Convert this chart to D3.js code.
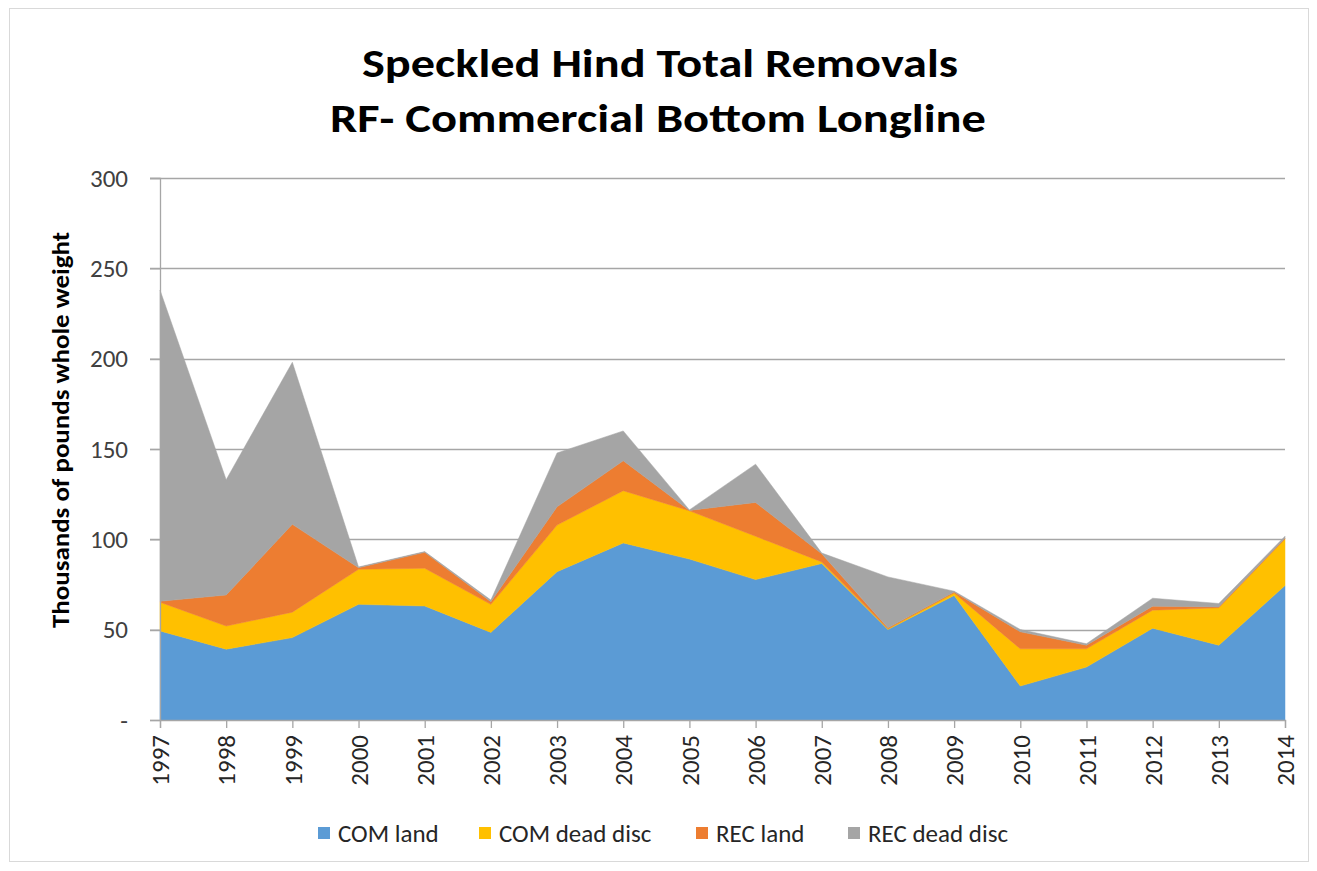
<!DOCTYPE html>
<html>
<head>
<meta charset="utf-8">
<script src="https://cdn.jsdelivr.net/npm/d3@7"></script>
<style>
  body { margin: 0; background: #fff; }
  text { font-family: Carlito, "Open Sans", "Liberation Sans", sans-serif; }
</style>
</head>
<body>
<svg id="chart" width="1317" height="871"></svg>
<script>
// values (thousands of pounds whole weight)
var years = ["1997","1998","1999","2000","2001","2002","2003","2004","2005",
	"2006","2007","2008","2009","2010","2011","2012","2013","2014"];
var comLand = [49.3, 39.2, 45.6, 64.0, 63.1, 48.5, 82.1, 98.0, 89.1, 77.7, 86.6, 50.1, 68.9, 18.8, 29.3, 50.8, 41.4, 74.4];
var comDead = [15.9, 12.8, 14.1, 19.4, 20.9, 15.5, 25.8, 28.9, 26.7, 24.0, 0.9, 0.4, 1.4, 20.6, 10.1, 10.0, 20.7, 25.8];
var recLand = [0.5, 17.2, 48.6, 0.9, 8.8, 1.5, 10.1, 16.6, 0.2, 18.7, 4.5, 0.5, 0.6, 9.4, 2.0, 2.2, 0.5, 0.4];
var recDead = [172.3, 63.8, 89.7, 0.4, 0.4, 0.9, 29.8, 16.5, 0.3, 21.2, 0.4, 28.2, 0.4, 1.3, 0.8, 4.4, 1.9, 1.1];
var seriesNames = ["COM land", "COM dead disc", "REC land", "REC dead disc"];
var seriesColors = ["#5b9bd5", "#ffc000", "#ed7d31", "#a5a5a5"];
var yTicks = [0, 50, 100, 150, 200, 250, 300];

var svg = d3.select("#chart"),
	margin = {left: 160, right: 32, top: 178, bottom: 151},
	width = 1317 - margin.left - margin.right,
	height = 871 - margin.top - margin.bottom;

var rows = years.map(function(y, i) {
	return {year: y, "COM land": comLand[i], "COM dead disc": comDead[i],
		"REC land": recLand[i], "REC dead disc": recDead[i]};
});

var x = d3.scalePoint().domain(years).range([0, width]),
	y = d3.scaleLinear().domain([0, 300]).range([height, 0]),
	color = d3.scaleOrdinal().domain(seriesNames).range(seriesColors);

var stacked = d3.stack().keys(seriesNames)(rows);

// outer border of the chart box
svg.append("rect")
	.attr("x", 9.5).attr("y", 8.5)
	.attr("width", 1299).attr("height", 853)
	.attr("fill", "none").attr("stroke", "#d9d9d9");

// title
var title = svg.append("text")
	.attr("text-anchor", "middle")
	.attr("font-weight", "bold")
	.attr("font-size", 40)
	.attr("fill", "#000");
title.append("tspan").attr("x", 660).attr("y", 77)
	.attr("textLength", 596).attr("lengthAdjust", "spacingAndGlyphs")
	.text("Speckled Hind Total Removals");
title.append("tspan").attr("x", 658).attr("y", 132)
	.attr("textLength", 656).attr("lengthAdjust", "spacingAndGlyphs")
	.text("RF- Commercial Bottom Longline");

var g = svg.append("g").attr("transform", "translate(" + margin.left + "," + margin.top + ")");

// gridlines
g.append("g")
	.selectAll("line")
	.data(yTicks.filter(function(d) { return d > 0; }))
	.enter().append("line")
	.attr("x1", -10).attr("x2", width)
	.attr("y1", function(d) { return Math.round(y(d)) + 0.5; })
	.attr("y2", function(d) { return Math.round(y(d)) + 0.5; })
	.attr("stroke", "#a6a6a6").attr("stroke-width", 1.3);

// areas
var area = d3.area()
	.x(function(d) { return x(d.data.year); })
	.y0(function(d) { return y(d[0]); })
	.y1(function(d) { return y(d[1]); });

g.selectAll(".layer")
	.data(stacked)
	.enter().append("path")
	.attr("class", "layer")
	.attr("d", area)
	.attr("fill", function(d) { return color(d.key); })
	.attr("stroke", function(d) { return color(d.key); })
	.attr("stroke-width", 0.5);

// y axis
var yAxis = g.append("g")
	.call(d3.axisLeft(y).tickValues(yTicks).tickSize(10).tickPadding(22)
		.tickFormat(function(d) { return d === 0 ? "-" : d; }));
yAxis.select(".domain").attr("stroke", "#a6a6a6").attr("stroke-width", 1.3);
yAxis.selectAll(".tick line").attr("stroke", "#a6a6a6").attr("stroke-width", 1.3);
yAxis.selectAll(".tick text")
	.attr("font-size", 25).attr("fill", "#404040")
	.style("font-family", "Carlito, 'Open Sans', sans-serif");

// x axis
var xAxis = g.append("g")
	.attr("transform", "translate(0," + height + ")")
	.call(d3.axisBottom(x).tickSize(8).tickPadding(0));
xAxis.select(".domain").attr("stroke", "#a6a6a6").attr("stroke-width", 1.3);
xAxis.selectAll(".tick line").attr("stroke", "#a6a6a6").attr("stroke-width", 1.3);
xAxis.selectAll(".tick text")
	.attr("font-size", 25).attr("fill", "#262626")
	.attr("text-anchor", "end")
	.attr("transform", "rotate(-90)")
	.attr("x", -15).attr("y", 0).attr("dy", "0.35em")
	.style("font-family", "Carlito, 'Open Sans', sans-serif");

// y axis title
svg.append("text")
	.attr("transform", "translate(69,430) rotate(-90)")
	.attr("text-anchor", "middle")
	.attr("font-weight", "bold")
	.attr("font-size", 24)
	.attr("textLength", 396).attr("lengthAdjust", "spacingAndGlyphs")
	.text("Thousands of pounds whole weight");

// legend
var legendX = [318, 479, 696, 848];
var legend = svg.append("g").selectAll("g")
	.data(seriesNames)
	.enter().append("g")
	.attr("transform", function(d, i) { return "translate(" + legendX[i] + ",833)"; });
legend.append("rect")
	.attr("x", 0).attr("y", -6).attr("width", 12).attr("height", 12)
	.attr("fill", function(d) { return color(d); });
legend.append("text")
	.attr("x", 20).attr("y", 0).attr("dy", "0.35em")
	.attr("font-size", 25).attr("fill", "#262626")
	.text(function(d) { return d; });
</script>
</body>
</html>
